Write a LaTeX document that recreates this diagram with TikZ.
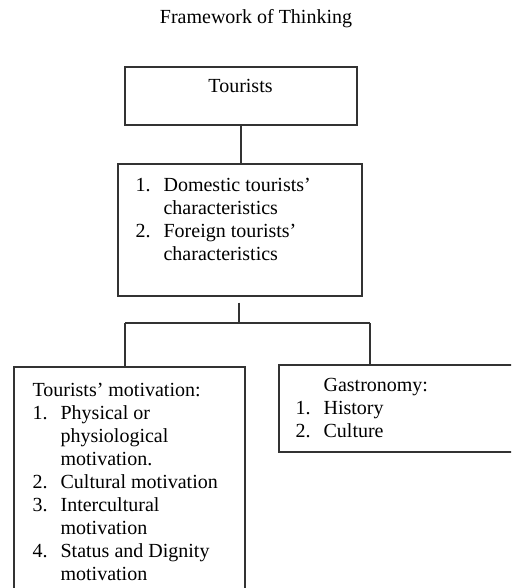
\documentclass[tikz,border=0pt]{standalone}
\usepackage{fontspec}
\setmainfont{Liberation Serif}
\usepackage{array}

\begin{document}
\begin{tikzpicture}[x=1pt,y=-1pt,line width=1.2pt,
		font=\fontsize{20}{23}\selectfont,
		box/.style={draw=black!80,rectangle,inner sep=0pt},
		lst/.style={anchor=base west,inner sep=0pt},
		conn/.style={draw=black!80}]
		\useasboundingbox (0,0) rectangle (511,588);
		\clip (0,0) rectangle (511,588);
		\node[anchor=base,inner sep=0pt] (title) at (256,24) {Framework of Thinking};
		% boxes
		\node[box,minimum width=232pt,minimum height=58pt] (tour) at (241,96) {};
		\node[box,minimum width=244pt,minimum height=132pt] (det) at (240,230) {};
		\node[box,minimum width=231pt,minimum height=273pt] (mot) at (129.5,503.5) {};
		\node[box,minimum width=261pt,minimum height=87pt] (gas) at (409.5,408.5) {};
		% texts
		\node[anchor=base,inner sep=0pt] (tourtxt) at (240.5,93) {Tourists};
		\node[lst] (dettxt) at (135,191) {\begin{tabular}[t]{@{}p{28pt}@{}l@{}}
			1. & Domestic tourists’\\
			   & characteristics\\
			2. & Foreign tourists’\\
			   & characteristics
		\end{tabular}};
		\node[lst] (mottxt) at (32,396) {\begin{tabular}[t]{@{}p{28pt}@{}l@{}}
			\multicolumn{2}{@{}l@{}}{Tourists’ motivation:}\\
			1. & Physical or\\
			   & physiological\\
			   & motivation.\\
			2. & Cultural motivation\\
			3. & Intercultural\\
			   & motivation\\
			4. & Status and Dignity\\
			   & motivation
		\end{tabular}};
		\node[lst] (gastxt) at (295,391) {\begin{tabular}[t]{@{}p{28pt}@{}l@{}}
			   & Gastronomy:\\
			1. & History\\
			2. & Culture
		\end{tabular}};
		% connectors
		\coordinate (split) at (239,323);
		\coordinate (jl) at (125,323);
		\coordinate (jr) at (370,323);
		\draw[conn] (tour.south) -- (tour.south |- det.north);
		\draw[conn,shorten <=6pt] (det.south -| split) -- (split);
		\draw[conn] (jl) -- (jr);
		\draw[conn] (jl) -- (jl |- mot.north);
		\draw[conn] (jr) -- (jr |- gas.north);
	    \end{tikzpicture}
\end{document}
